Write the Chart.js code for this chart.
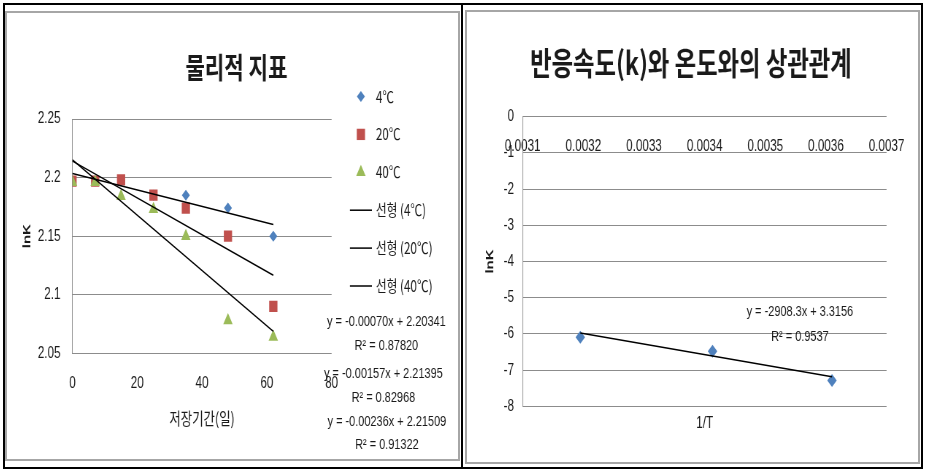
<!DOCTYPE html>
<html>
<head>
<meta charset="utf-8">
<script src="https://cdn.jsdelivr.net/npm/chart.js@4.4.0/dist/chart.umd.min.js"></script>
<style>
    html, body { margin: 0; padding: 0; background: #fff; }
    body { width: 927px; height: 472px; position: relative; overflow: hidden; }
    .frame { position: absolute; border: 2px solid #000; box-sizing: border-box; }
    .panel { position: absolute; border: 2px solid #a6a6a6; box-sizing: border-box; }
    canvas { position: absolute; }
</style>
</head>
<body>
<div class="frame" style="left:3px;top:3px;width:920px;height:466px"></div>
<div style="position:absolute;left:461px;top:3px;width:2px;height:466px;background:#000"></div>
<div class="panel" style="left:5px;top:11px;width:455px;height:450px"></div>
<div class="panel" style="left:465px;top:10px;width:455px;height:454px"></div>
<canvas id="graficoFisico"></canvas>
<canvas id="graficoTaxa"></canvas>
<script>
// --- Dados: 물리적 지표 ---
const diasArmazenamento = [0, 7, 15, 25, 35, 48, 62];
const lnK4 = [2.197, 2.197, 2.197, 2.185, 2.185, 2.174, 2.150];
const lnK20 = [2.197, 2.197, 2.198, 2.185, 2.174, 2.150, 2.090];
const lnK40 = [2.196, 2.196, 2.184, 2.173, 2.150, 2.078, 2.064];
const diasTendencia = [0, 62];
const tendencia4 = [2.2034, 2.1600];
const tendencia20 = [2.2140, 2.1166];
const tendencia40 = [2.2151, 2.0688];
const ticksXFisico = [0, 20, 40, 60, 80];
const ticksYFisico = [2.05, 2.1, 2.15, 2.2, 2.25];
const rotulosFisico = ['4℃', '20℃', '40℃', '선형 (4℃)', '선형 (20℃)', '선형 (40℃)'];
const equacoesFisico = [
    'y = -0.00070x + 2.20341', 'R² = 0.87820',
    'y = -0.00157x + 2.21395', 'R² = 0.82968',
    'y = -0.00236x + 2.21509', 'R² = 0.91322'
];

// --- Dados: 반응속도(k)와 온도와의 상관관계 ---
const inversoT = [0.003195, 0.003413, 0.00361];
const lnKTaxa = [-6.09, -6.48, -7.29];
const tendenciaTaxaX = [0.003195, 0.00361];
const tendenciaTaxaY = [-5.976, -7.183];
const ticksXTaxa = [0.0031, 0.0032, 0.0033, 0.0034, 0.0035, 0.0036, 0.0037];
const ticksYTaxa = [0, -1, -2, -3, -4, -5, -6, -7, -8];
const equacoesTaxa = ['y = -2908.3x + 3.3156', 'R² = 0.9537'];

// --- Layout ---
// the source picture is squeezed horizontally, so each canvas is drawn wider and shown narrower
const SX = 0.73;
const corGrid = '#8c8c8c';
const corTexto = '#1a1a1a';
const fonteNum = '"Liberation Sans", "Noto Sans CJK KR", sans-serif';
const fonteKr = '"Noto Sans CJK KR", sans-serif';
const azul = '#4f81bd', vermelho = '#c0504d', verde = '#9bbb59';

const pontos = (xs, ys) => xs.map((x, i) => ({ x, y: ys[i] }));
const ticksDe = lista => scale => { scale.ticks = lista.map(v => ({ value: v })); };

const prepararCanvas = (id, box) => {
    const c = document.getElementById(id);
    c.width = Math.round(box.w / SX);
    c.height = box.h;
    c.style.left = box.x + 'px';
    c.style.top = box.y + 'px';
    c.style.width = box.w + 'px';
    c.style.height = box.h + 'px';
    return c;
};

const pluginTextos = (textos) => ({
    id: 'textos',
    afterDraw(chart) {
        const ctx = chart.ctx;
        ctx.save();
        ctx.textBaseline = 'middle';
        ctx.fillStyle = corTexto;
        textos(chart).forEach(t => {
            ctx.font = t.font;
            ctx.textAlign = t.align || 'center';
            ctx.fillText(t.text, t.x, t.y);
        });
        ctx.restore();
    }
});

// legend drawn to the right of the plot, one row per dataset
const pluginLegenda = (leg) => ({
    id: 'legendaLateral',
    afterDraw(chart) {
        const ctx = chart.ctx;
        ctx.save();
        chart.data.datasets.forEach((ds, i) => {
            const y = leg.top + i * leg.step;
            if (ds.showLine) {
                ctx.strokeStyle = ds.borderColor;
                ctx.lineWidth = ds.borderWidth;
                ctx.beginPath();
                ctx.moveTo(leg.lineX0, y);
                ctx.lineTo(leg.lineX1, y);
                ctx.stroke();
            } else {
                ctx.fillStyle = ds.backgroundColor;
                Chart.helpers.drawPoint(ctx, {
                    pointStyle: ds.pointStyle, radius: ds.pointRadius, borderWidth: 0, rotation: 0
                }, leg.markX, y);
            }
            ctx.fillStyle = corTexto;
            ctx.font = '16px ' + fonteKr;
            ctx.textAlign = 'left';
            ctx.textBaseline = 'middle';
            ctx.fillText(ds.label, leg.textX, y);
        });
        ctx.restore();
    }
});

// --- Gráfico 1: 물리적 지표 ---
const boxFisico = { x: 7, y: 14, w: 451, h: 445 };
const fx = px => (px - boxFisico.x) / SX;
const fy = py => py - boxFisico.y;
const canvasFisico = prepararCanvas('graficoFisico', boxFisico);

const serieFisico = (label, ys, cor, estilo, raio, ordem) => ({
    label, data: pontos(diasArmazenamento, ys),
    backgroundColor: cor, borderColor: cor, pointStyle: estilo,
    pointRadius: raio, pointBorderWidth: 0, order: ordem
});
const linhaFisico = (label, ys) => ({
    label, data: pontos(diasTendencia, ys), showLine: true,
    borderColor: '#000', borderWidth: 1.5, pointRadius: 0, order: 0
});

new Chart(canvasFisico, {
    type: 'scatter',
    data: {
        datasets: [
            serieFisico(rotulosFisico[0], lnK4, azul, 'rectRot', 5.5, 3),
            serieFisico(rotulosFisico[1], lnK20, vermelho, 'rect', 8, 2),
            serieFisico(rotulosFisico[2], lnK40, verde, 'triangle', 7.5, 1),
            linhaFisico(rotulosFisico[3], tendencia4),
            linhaFisico(rotulosFisico[4], tendencia20),
            linhaFisico(rotulosFisico[5], tendencia40)
        ]
    },
    options: {
        responsive: false,
        animation: false,
        events: [],
        layout: { padding: { left: 0, top: fy(119), right: canvasFisico.width - fx(331.7), bottom: 0 } },
        plugins: { legend: { display: false }, tooltip: { enabled: false } },
        scales: {
            x: {
                type: 'linear', min: 0, max: 80,
                afterBuildTicks: ticksDe(ticksXFisico),
                afterFit: s => { s.height = boxFisico.h - fy(353.3); },
                grid: { display: false },
                border: { display: false },
                ticks: { color: corTexto, font: { family: fonteNum, size: 16 }, padding: 12.5, maxRotation: 0, autoSkip: false, callback: v => String(v) },
                title: { display: true, text: '저장기간(일)', color: corTexto, font: { family: fonteKr, size: 17 }, padding: { top: 0, bottom: 29.8 } }
            },
            y: {
                min: 2.05, max: 2.25,
                afterBuildTicks: ticksDe(ticksYFisico),
                afterFit: s => { s.width = fx(72.5); },
                grid: { color: corGrid, drawTicks: false },
                border: { display: true, color: corGrid },
                ticks: { color: corTexto, font: { family: fonteNum, size: 16 }, padding: fx(72.5) - fx(60.5), callback: v => String(v) },
                title: { display: true, text: 'lnK', color: corTexto, font: { family: fonteNum, size: 15, weight: 'bold' }, padding: { top: fx(27) - 9, bottom: 0 } }
            }
        }
    },
    plugins: [
        pluginLegenda({ top: fy(96.5), step: 37.9, markX: fx(361), lineX0: fx(350), lineX1: fx(372), textX: fx(376) }),
        pluginTextos(() => [
            { text: '물리적 지표', x: fx(236.5), y: fy(67.5), font: 'bold 29px ' + fonteKr },
            { text: equacoesFisico[0], x: fx(386.5), y: fy(322), font: '15px ' + fonteNum },
            { text: equacoesFisico[1], x: fx(386.5), y: fy(346), font: '15px ' + fonteNum },
            { text: equacoesFisico[2], x: fx(383.5), y: fy(374), font: '15px ' + fonteNum },
            { text: equacoesFisico[3], x: fx(383.5), y: fy(398), font: '15px ' + fonteNum },
            { text: equacoesFisico[4], x: fx(387), y: fy(422), font: '15px ' + fonteNum },
            { text: equacoesFisico[5], x: fx(387), y: fy(445), font: '15px ' + fonteNum }
        ])
    ]
});

// --- Gráfico 2: 반응속도(k)와 온도와의 상관관계 ---
const boxTaxa = { x: 467, y: 12, w: 451, h: 450 };
const tx = px => (px - boxTaxa.x) / SX;
const ty = py => py - boxTaxa.y;
const canvasTaxa = prepararCanvas('graficoTaxa', boxTaxa);

new Chart(canvasTaxa, {
    type: 'scatter',
    data: {
        datasets: [
            {
                label: 'lnK', data: pontos(inversoT, lnKTaxa),
                backgroundColor: azul, borderColor: azul, pointStyle: 'rectRot',
                pointRadius: 6.5, pointBorderWidth: 0, order: 1
            },
            {
                label: '선형 (lnK)', data: pontos(tendenciaTaxaX, tendenciaTaxaY), showLine: true,
                borderColor: '#000', borderWidth: 1.5, pointRadius: 0, order: 0
            }
        ]
    },
    options: {
        responsive: false,
        animation: false,
        events: [],
        // the x axis sits on y = 0, so it takes no room below; the space under the plot is padding
        layout: { padding: { left: 0, top: ty(116.7), right: canvasTaxa.width - tx(886.7), bottom: boxTaxa.h - ty(406.3) } },
        plugins: { legend: { display: false }, tooltip: { enabled: false } },
        scales: {
            x: {
                type: 'linear', min: 0.0031, max: 0.0037,
                position: { y: 0 },
                afterBuildTicks: ticksDe(ticksXTaxa),
                grid: { display: false },
                border: { display: false },
                ticks: { color: corTexto, font: { family: fonteNum, size: 16 }, padding: 12.5, maxRotation: 0, autoSkip: false, callback: v => v.toFixed(4) }
            },
            y: {
                min: -8, max: 0,
                afterBuildTicks: ticksDe(ticksYTaxa),
                afterFit: s => { s.width = tx(522.7); },
                grid: { color: corGrid, drawTicks: false },
                border: { display: true, color: corGrid },
                ticks: { color: corTexto, font: { family: fonteNum, size: 16 }, padding: tx(522.7) - tx(514), callback: v => String(v) },
                title: { display: true, text: 'lnK', color: corTexto, font: { family: fonteNum, size: 15, weight: 'bold' }, padding: { top: tx(490) - 9, bottom: 0 } }
            }
        }
    },
    plugins: [
        pluginTextos(chart => [
            { text: '반응속도(k)와 온도와의 상관관계', x: tx(691), y: ty(63.3), font: 'bold 32px ' + fonteKr },
            { text: '1/T', x: (chart.chartArea.left + chart.chartArea.right) / 2, y: ty(424), font: '16px ' + fonteNum },
            { text: equacoesTaxa[0], x: tx(800), y: ty(311.5), font: '15px ' + fonteNum },
            { text: equacoesTaxa[1], x: tx(800), y: ty(336.5), font: '15px ' + fonteNum }
        ])
    ]
});
</script>
</body>
</html>
